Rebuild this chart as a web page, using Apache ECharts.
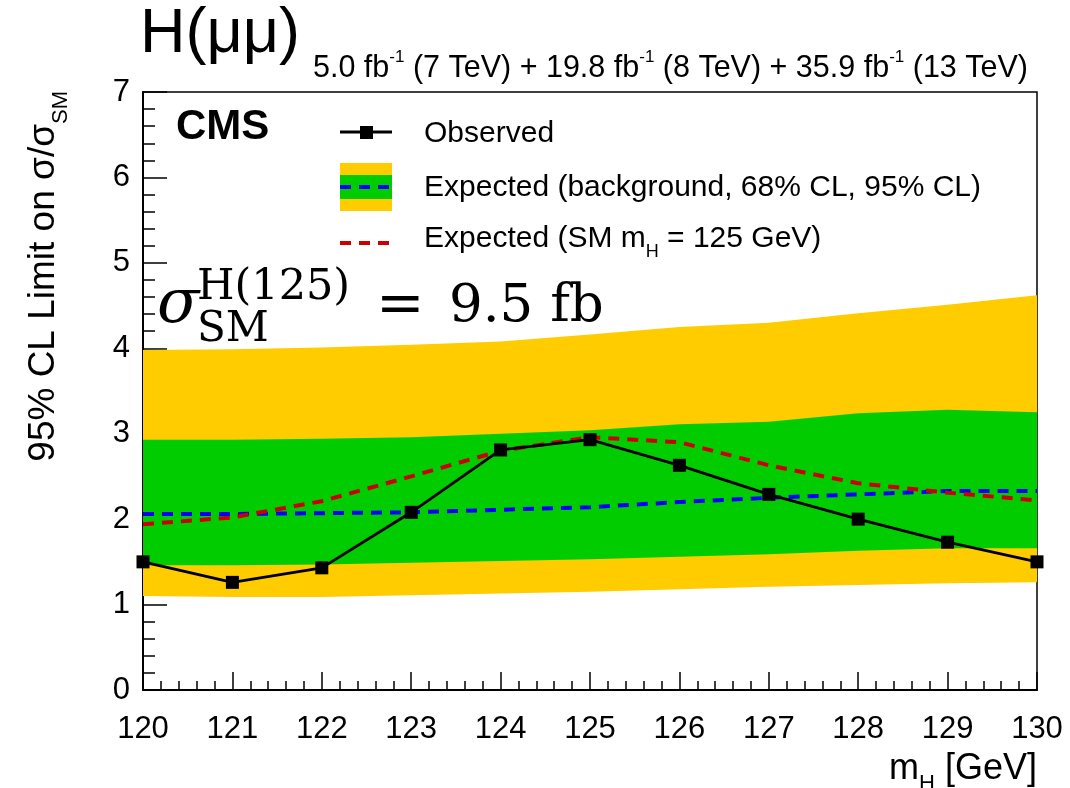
<!DOCTYPE html>
<html>
<head>
<meta charset="utf-8">
<script src="https://cdn.jsdelivr.net/npm/echarts@6/dist/echarts.min.js"></script>
<style>
html,body{margin:0;padding:0;background:#fff;}
#chart{width:1070px;height:788px;}
</style>
</head>
<body>
<div id="chart"></div>
<script>
// ---- data ----
const mass      = [120, 121, 122, 123, 124, 125, 126, 127, 128, 129, 130];
const observed  = [1.50, 1.26, 1.43, 2.08, 2.81, 2.93, 2.63, 2.29, 2.00, 1.73, 1.50];
const expected  = [2.06, 2.06, 2.07, 2.08, 2.11, 2.14, 2.20, 2.25, 2.29, 2.33, 2.33];
const expSM125  = [1.94, 2.02, 2.21, 2.50, 2.80, 2.96, 2.90, 2.63, 2.42, 2.31, 2.22];
const minus2sig = [1.10, 1.09, 1.09, 1.11, 1.13, 1.15, 1.18, 1.21, 1.23, 1.25, 1.26];
const minus1sig = [1.46, 1.46, 1.47, 1.49, 1.51, 1.53, 1.56, 1.59, 1.63, 1.66, 1.66];
const plus1sig  = [2.93, 2.93, 2.94, 2.96, 3.00, 3.04, 3.11, 3.14, 3.24, 3.28, 3.25];
const plus2sig  = [3.98, 3.99, 4.01, 4.04, 4.08, 4.16, 4.25, 4.30, 4.41, 4.51, 4.62];
const xTicks    = [120, 121, 122, 123, 124, 125, 126, 127, 128, 129, 130];
const yTicks    = [0, 1, 2, 3, 4, 5, 6, 7];

const SANS = "'Liberation Sans', Arial, Helvetica, sans-serif";
const SERIF = "'DejaVu Serif', 'Liberation Serif', 'Times New Roman', serif";

function bandSeries(lo, hi, color, z) {
  return {
    type: 'custom',
    z: z,
    silent: true,
    data: mass.map((m, i) => [m, hi[i], lo[i]]),
    encode: { x: 0, y: [1, 2] },
    renderItem: function (params, api) {
      if (params.dataIndex !== 0) return null;
      const pts = [];
      for (let i = 0; i < mass.length; i++) pts.push(api.coord([mass[i], hi[i]]));
      for (let i = mass.length - 1; i >= 0; i--) pts.push(api.coord([mass[i], lo[i]]));
      return {
        type: 'polygon',
        shape: { points: pts },
        style: { fill: color, stroke: null }
      };
    }
  };
}

const chart = echarts.init(document.getElementById('chart'), null, { renderer: 'canvas' });

const subStyle = (fs) => ({ fontSize: fs, fontFamily: SANS, verticalAlign: 'bottom', lineHeight: fs, fill: '#000' });

const option = {
  backgroundColor: '#ffffff',
  animation: false,
  grid: {
    left: 143, right: 33, top: 92, bottom: 98,
    show: true, borderColor: '#000', borderWidth: 1.5, backgroundColor: 'transparent'
  },
  xAxis: {
    type: 'value',
    min: xTicks[0], max: xTicks[xTicks.length - 1], interval: 1,
    axisLine: { onZero: false, lineStyle: { color: '#000', width: 2 } },
    axisTick: { inside: true, length: 18, lineStyle: { color: '#000', width: 1.5 } },
    minorTick: { show: true, splitNumber: 5, length: 9, lineStyle: { color: '#000', width: 1.5 } },
    splitLine: { show: false },
    axisLabel: { fontFamily: SANS, fontSize: 31, color: '#000', margin: 24 }
  },
  yAxis: {
    type: 'value',
    min: yTicks[0], max: yTicks[yTicks.length - 1], interval: 1,
    axisLine: { onZero: false, lineStyle: { color: '#000', width: 2 } },
    axisTick: { inside: true, length: 24, lineStyle: { color: '#000', width: 1.5 } },
    minorTick: { show: true, splitNumber: 5, length: 12, lineStyle: { color: '#000', width: 1.5 } },
    splitLine: { show: false },
    axisLabel: { fontFamily: SANS, fontSize: 31, color: '#000', margin: 13 }
  },
  series: [
    bandSeries(minus2sig, plus2sig, '#ffcc00', 1),
    bandSeries(minus1sig, plus1sig, '#00cc00', 2),
    {
      type: 'line', name: 'Expected', z: 3,
      data: mass.map((m, i) => [m, expected[i]]),
      showSymbol: false, symbol: 'none',
      lineStyle: { color: '#0000ff', width: 4, type: [11, 8] }
    },
    {
      type: 'line', name: 'Expected SM', z: 4,
      data: mass.map((m, i) => [m, expSM125[i]]),
      showSymbol: false, symbol: 'none',
      lineStyle: { color: '#cc0000', width: 4, type: [11, 8] }
    },
    {
      type: 'line', name: 'Observed', z: 5, clip: false,
      data: mass.map((m, i) => [m, observed[i]]),
      symbol: 'rect', symbolSize: 13,
      itemStyle: { color: '#000' },
      lineStyle: { color: '#000', width: 2.8 }
    }
  ],
  graphic: [
    // header
    { type: 'text', x: 140, y: 35, z: 10,
      style: { text: 'H(μμ)', font: '63px ' + SANS, fill: '#000', verticalAlign: 'middle', align: 'left' } },
    { type: 'text', x: 1028, y: 69, z: 10,
      style: {
        text: '5.0 fb{sup|-1} (7 TeV) + 19.8 fb{sup|-1} (8 TeV) + 35.9 fb{sup|-1} (13 TeV)',
        font: '30.5px ' + SANS, fill: '#000', align: 'right', verticalAlign: 'middle', lineHeight: 40,
        rich: { sup: { fontSize: 17, fontFamily: SANS, verticalAlign: 'top', lineHeight: 17, fill: '#000' } }
      } },
    // CMS
    { type: 'text', x: 176, y: 127, z: 10,
      style: { text: 'CMS', font: 'bold 42px ' + SANS, fill: '#000', verticalAlign: 'middle' } },
    // legend
    { type: 'line', z: 10, shape: { x1: 340, y1: 132, x2: 392, y2: 132 }, style: { stroke: '#000', lineWidth: 2.8 } },
    { type: 'rect', z: 11, shape: { x: 360, y: 126, width: 13, height: 13 }, style: { fill: '#000' } },
    { type: 'text', x: 424, y: 134, z: 10,
      style: { text: 'Observed', font: '30px ' + SANS, fill: '#000', verticalAlign: 'middle' } },
    { type: 'rect', z: 10, shape: { x: 340, y: 163, width: 52, height: 48 }, style: { fill: '#ffcc00' } },
    { type: 'rect', z: 11, shape: { x: 340, y: 175, width: 52, height: 24 }, style: { fill: '#00cc00' } },
    { type: 'line', z: 12, shape: { x1: 340, y1: 187, x2: 392, y2: 187 }, style: { stroke: '#0000ff', lineWidth: 4, lineDash: [11, 8] } },
    { type: 'text', x: 424, y: 188, z: 10,
      style: { text: 'Expected (background, 68% CL, 95% CL)', font: '30px ' + SANS, fill: '#000', verticalAlign: 'middle' } },
    { type: 'line', z: 10, shape: { x1: 340, y1: 243, x2: 392, y2: 243 }, style: { stroke: '#cc0000', lineWidth: 4, lineDash: [11, 8] } },
    { type: 'text', x: 424, y: 239, z: 10,
      style: {
        text: 'Expected (SM m{sub|H} = 125 GeV)', font: '30px ' + SANS, fill: '#000', verticalAlign: 'middle', lineHeight: 44,
        rich: { sub: subStyle(18) }
      } },
    // formula sigma_SM^{H(125)} = 9.5 fb
    { type: 'text', x: 157, y: 306, z: 10,
      style: { text: 'σ', font: 'italic 62px ' + SERIF, fill: '#000', verticalAlign: 'middle' } },
    { type: 'text', x: 197, y: 330, z: 10,
      style: { text: 'SM', font: '42px ' + SERIF, fill: '#000', verticalAlign: 'middle' } },
    { type: 'text', x: 197, y: 288, z: 10,
      style: { text: 'H(125)', font: '43px ' + SERIF, fill: '#000', verticalAlign: 'middle' } },
    { type: 'text', x: 376, y: 307, z: 10,
      style: { text: '=', font: '58px ' + SERIF, fill: '#000', verticalAlign: 'middle' } },
    { type: 'text', x: 449, y: 307, z: 10,
      style: { text: '9.5 fb', font: '53px ' + SERIF, fill: '#000', verticalAlign: 'middle' } },
    // axis titles
    { type: 'text', x: 44, y: 91, rotation: Math.PI / 2, z: 10,
      style: {
        text: '95% CL Limit on σ/σ{sub|SM}', font: '37px ' + SANS, fill: '#000', align: 'right', verticalAlign: 'middle', lineHeight: 56,
        rich: { sub: subStyle(22) }
      } },
    { type: 'text', x: 1037, y: 769, z: 10,
      style: {
        text: 'm{sub|H} [GeV]', font: '36px ' + SANS, fill: '#000', align: 'right', verticalAlign: 'middle', lineHeight: 52,
        rich: { sub: subStyle(22) }
      } }
  ]
};

chart.setOption(option);
</script>
</body>
</html>
